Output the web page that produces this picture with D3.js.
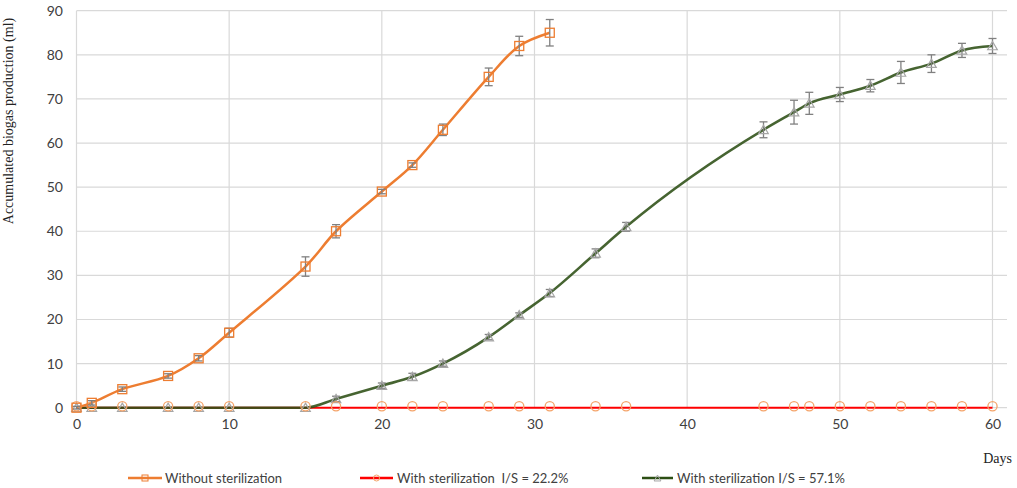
<!DOCTYPE html>
<html>
<head>
<meta charset="utf-8">
<script src="https://cdn.jsdelivr.net/npm/d3@7/dist/d3.min.js"></script>
<style>
html,body{margin:0;padding:0;background:#fff;}
svg{display:block;}
</style>
</head>
<body>
<svg id="chart" width="1017" height="488"></svg>
<script>
// ---- data ----
const daysOrange = [0,1,3,6,8,10,15,17,20,22,24,27,29,31];
const valuesOrange = [0,1.1,4.2,7.2,11.2,17,32,40,49,55,63,75,82,85];
const errOrange = [0.3,0.5,0.5,0.5,0.6,1,2.2,1.5,0.5,0.5,1.3,2,2.2,3];

const daysSter = [0,1,3,6,8,10,15,17,20,22,24,27,29,31,34,36,45,47,48,50,52,54,56,58,60];
const valuesRed = [0,0,0,0,0,0,0,0,0,0,0,0,0,0,0,0,0,0,0,0,0,0,0,0,0];
const valuesGreen = [0,0,0,0,0,0,0,2,5,7,10,16,21,26,35,41,63,67,69,71,73,76,78,81,82];
const errGreen = [0,0,0,0,0,0,0,0.6,0.6,0.8,0.6,0.6,0.5,0.8,1,1,1.8,2.7,2.5,1.6,1.4,2.5,2,1.6,1.7];

const xTicks = [0,10,20,30,40,50,60];
const yTicks = [0,10,20,30,40,50,60,70,80,90];

const seriesNames = ["Without sterilization","With sterilization  I/S = 22.2%","With sterilization I/S = 57.1%"];
const colors = {orange:"#ED7D31", red:"#FF0000", green:"#2C4F14", circle:"#F4A46A", tri:"#A6A6A6", err:"#808080"};

// ---- chart ----
const svg = d3.select("#chart");
const x = d3.scaleLinear().domain([0,60]).range([76.5,992.5]);
const y = d3.scaleLinear().domain([0,90]).range([407.7,10.7]);
const gridRight = 1007;

const g = svg.append("g");
g.selectAll(".hg").data(yTicks).enter().append("line")
  .attr("x1", x(0)).attr("x2", gridRight)
  .attr("y1", d=>y(d)).attr("y2", d=>y(d))
  .attr("stroke","#D9D9D9").attr("stroke-width",1.2);
g.selectAll(".vg").data(xTicks).enter().append("line")
  .attr("x1", d=>x(d)).attr("x2", d=>x(d))
  .attr("y1", y(90)).attr("y2", y(0))
  .attr("stroke","#D9D9D9").attr("stroke-width",1.2);

const yAxis = d3.axisLeft(y).tickValues(yTicks).tickSize(0).tickPadding(0);
const yg = svg.append("g").attr("transform","translate(63,0)").call(yAxis);
yg.select(".domain").remove();
yg.selectAll("text").attr("font-family","Lato, 'Open Sans', sans-serif").attr("font-size",14).attr("fill","#404040");

const xAxis = d3.axisBottom(x).tickValues(xTicks).tickSize(0).tickPadding(0);
const xg = svg.append("g").attr("transform","translate(0,419)").call(xAxis);
xg.select(".domain").remove();
xg.selectAll("text").attr("font-family","Lato, 'Open Sans', sans-serif").attr("font-size",14).attr("fill","#404040");

svg.append("text")
  .attr("transform","translate(13,121) rotate(-90)")
  .attr("text-anchor","middle")
  .attr("font-family","'Liberation Serif', 'Times New Roman', serif")
  .attr("font-size",14).attr("fill","#222")
  .text("Accumulated biogas production (ml)");
svg.append("text")
  .attr("x",1012).attr("y",463).attr("text-anchor","end")
  .attr("font-family","'Liberation Serif', 'Times New Roman', serif")
  .attr("font-size",14).attr("fill","#222")
  .text("Days");

const redData = daysSter.map((d,i)=>({x:d,y:valuesRed[i]}));
const greenData = daysSter.map((d,i)=>({x:d,y:valuesGreen[i],e:errGreen[i]}));
const orangeData = daysOrange.map((d,i)=>({x:d,y:valuesOrange[i],e:errOrange[i]}));

const lineStraight = d3.line().x(d=>x(d.x)).y(d=>y(d.y));
const lineMono = d3.line().x(d=>x(d.x)).y(d=>y(d.y)).curve(d3.curveMonotoneX);
const lineCR = d3.line().x(d=>x(d.x)).y(d=>y(d.y)).curve(d3.curveCatmullRom.alpha(0.5));

svg.append("path").datum(redData).attr("d",lineStraight)
  .attr("fill","none").attr("stroke",colors.red).attr("stroke-width",2);
svg.append("path").datum(greenData).attr("d",lineMono)
  .attr("fill","none").attr("stroke",colors.green).attr("stroke-width",2.6).attr("stroke-opacity",0.88);
svg.append("path").datum(orangeData).attr("d",lineCR)
  .attr("fill","none").attr("stroke",colors.orange).attr("stroke-width",2.5);

function errorBars(data){
  const eg = svg.append("g").attr("stroke",colors.err).attr("stroke-width",1.3);
  data.filter(d=>d.e>0).forEach(d=>{
    const cx = x(d.x), y1 = y(d.y+d.e), y2 = y(d.y-d.e);
    eg.append("line").attr("x1",cx).attr("x2",cx).attr("y1",y1).attr("y2",y2);
    eg.append("line").attr("x1",cx-4).attr("x2",cx+4).attr("y1",y1).attr("y2",y1);
    eg.append("line").attr("x1",cx-4).attr("x2",cx+4).attr("y1",y2).attr("y2",y2);
  });
}

errorBars(greenData);
const triSym = d3.symbol().type(d3.symbolTriangle).size(40);
svg.append("g").selectAll("path").data(greenData).enter().append("path")
  .attr("d",triSym)
  .attr("transform",d=>`translate(${x(d.x)},${y(d.y)+1})`)
  .attr("fill","none").attr("stroke",colors.tri).attr("stroke-width",1.2);

svg.append("g").selectAll("circle").data(redData).enter().append("circle")
  .attr("cx",d=>x(d.x)).attr("cy",d=>y(d.y)-1.5).attr("r",4.6)
  .attr("fill","none").attr("stroke",colors.circle).attr("stroke-width",1.3);

errorBars(orangeData);
svg.append("g").selectAll("rect").data(orangeData).enter().append("rect")
  .attr("x",d=>x(d.x)-4.5).attr("y",d=>y(d.y)-4.5).attr("width",9).attr("height",9)
  .attr("fill","none").attr("stroke",colors.orange).attr("stroke-width",1.3);

const legendY = 478;
const legendItems = [
  {name:seriesNames[0], x1:128, x2:162, tx:165, color:colors.orange, marker:"square"},
  {name:seriesNames[1], x1:360, x2:393, tx:397, color:colors.red, marker:"circle"},
  {name:seriesNames[2], x1:642, x2:673, tx:677, color:colors.green, marker:"tri"}
];
const lg = svg.append("g");
legendItems.forEach(it=>{
  lg.append("line").attr("x1",it.x1).attr("x2",it.x2).attr("y1",legendY).attr("y2",legendY)
    .attr("stroke",it.color).attr("stroke-width",2.5);
  const cx = (it.x1+it.x2)/2;
  if(it.marker==="square"){
    lg.append("rect").attr("x",cx-3).attr("y",legendY-3).attr("width",6).attr("height",6)
      .attr("fill","none").attr("stroke",colors.orange).attr("stroke-width",1);
  } else if(it.marker==="circle"){
    lg.append("circle").attr("cx",cx).attr("cy",legendY).attr("r",3)
      .attr("fill","none").attr("stroke",colors.circle).attr("stroke-width",1);
  } else {
    lg.append("path").attr("d",d3.symbol().type(d3.symbolTriangle).size(20)())
      .attr("transform",`translate(${cx},${legendY+1})`)
      .attr("fill","none").attr("stroke",colors.tri).attr("stroke-width",1);
  }
  lg.append("text").attr("x",it.tx).attr("y",legendY+4.5)
    .attr("font-family","Lato, 'Open Sans', sans-serif").attr("font-size",13)
    .attr("fill","#404040").style("white-space","pre")
    .text(it.name);
});
</script>
</body>
</html>
